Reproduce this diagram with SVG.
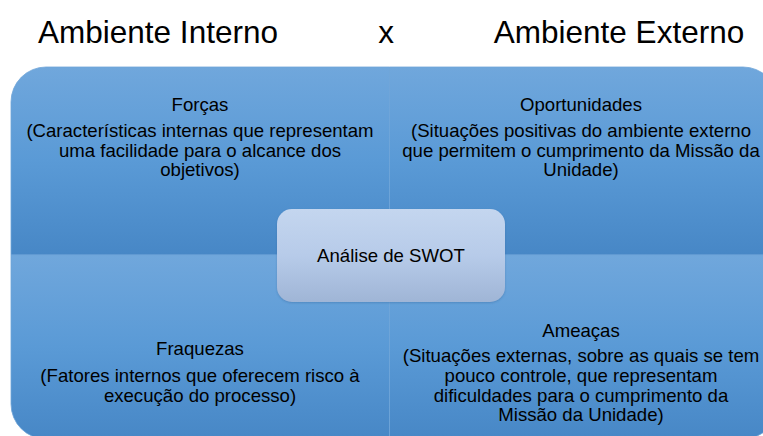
<svg xmlns="http://www.w3.org/2000/svg" width="763" height="436" viewBox="0 0 763 436">
<defs>
<linearGradient id="gq" x1="0" y1="0" x2="0" y2="1">
<stop offset="0" stop-color="#70a7dc"/>
<stop offset="0.5" stop-color="#5a9ad6"/>
<stop offset="1" stop-color="#4787c6"/>
</linearGradient>
<linearGradient id="gc" x1="0" y1="0" x2="0" y2="1">
<stop offset="0" stop-color="#c4d6ef"/>
<stop offset="0.5" stop-color="#b7cbe9"/>
<stop offset="1" stop-color="#9fb5d6"/>
</linearGradient>
<filter id="sh" x="-10%" y="-10%" width="120%" height="130%">
<feDropShadow dx="0" dy="1" stdDeviation="1.2" flood-color="#2a5c90" flood-opacity="0.35"/>
</filter>
</defs>
<style>
.t{font-family:"Liberation Sans",Arial,sans-serif;fill:#000;text-anchor:middle}
.h{font-size:31.5px}
.b{font-size:18.6px}
.q{fill:url(#gq);stroke:#6fa4d8;stroke-width:0.8}
</style>
<rect width="763" height="436" fill="#fff"/>
<text class="t h" x="158" y="43">Ambiente Interno</text>
<text class="t h" x="386" y="43">x</text>
<text class="t h" x="619" y="43">Ambiente Externo</text>
<g id="forcas">
<path class="q" d="M11,102 A35,35 0 0 1 46,67 L389.5,67 L389.5,255 L11,255 Z"/>
<text class="t b" x="200" y="111">Forças</text>
<text class="t b" x="200" y="137">(Características internas que representam</text>
<text class="t b" x="200" y="157">uma facilidade para o alcance dos</text>
<text class="t b" x="200" y="176">objetivos)</text>
</g>
<g id="oportunidades">
<path class="q" d="M389.5,67 L743,67 A35,35 0 0 1 778,102 L778,255 L389.5,255 Z"/>
<text class="t b" x="581" y="111">Oportunidades</text>
<text class="t b" x="581" y="137">(Situações positivas do ambiente externo</text>
<text class="t b" x="581" y="157">que permitem o cumprimento da Missão da</text>
<text class="t b" x="581" y="176">Unidade)</text>
</g>
<g id="fraquezas">
<path class="q" d="M11,255 L389.5,255 L389.5,439 L46,439 A35,35 0 0 1 11,404 Z"/>
<text class="t b" x="200" y="355">Fraquezas</text>
<text class="t b" x="200" y="382">(Fatores internos que oferecem risco à</text>
<text class="t b" x="200" y="402">execução do processo)</text>
</g>
<g id="ameacas">
<path class="q" d="M389.5,255 L778,255 L778,404 A35,35 0 0 1 743,439 L389.5,439 Z"/>
<text class="t b" x="581" y="337">Ameaças</text>
<text class="t b" x="581" y="362">(Situações externas, sobre as quais se tem</text>
<text class="t b" x="581" y="382">pouco controle, que representam</text>
<text class="t b" x="581" y="402">dificuldades para o cumprimento da</text>
<text class="t b" x="581" y="421">Missão da Unidade)</text>
</g>
<g id="connectors"></g>
<g id="swot">
<rect x="277" y="209" width="228" height="93" rx="15" fill="url(#gc)" filter="url(#sh)"/>
<text class="t" x="391" y="262" font-size="18.6px">Análise de SWOT</text>
</g>
</svg>
